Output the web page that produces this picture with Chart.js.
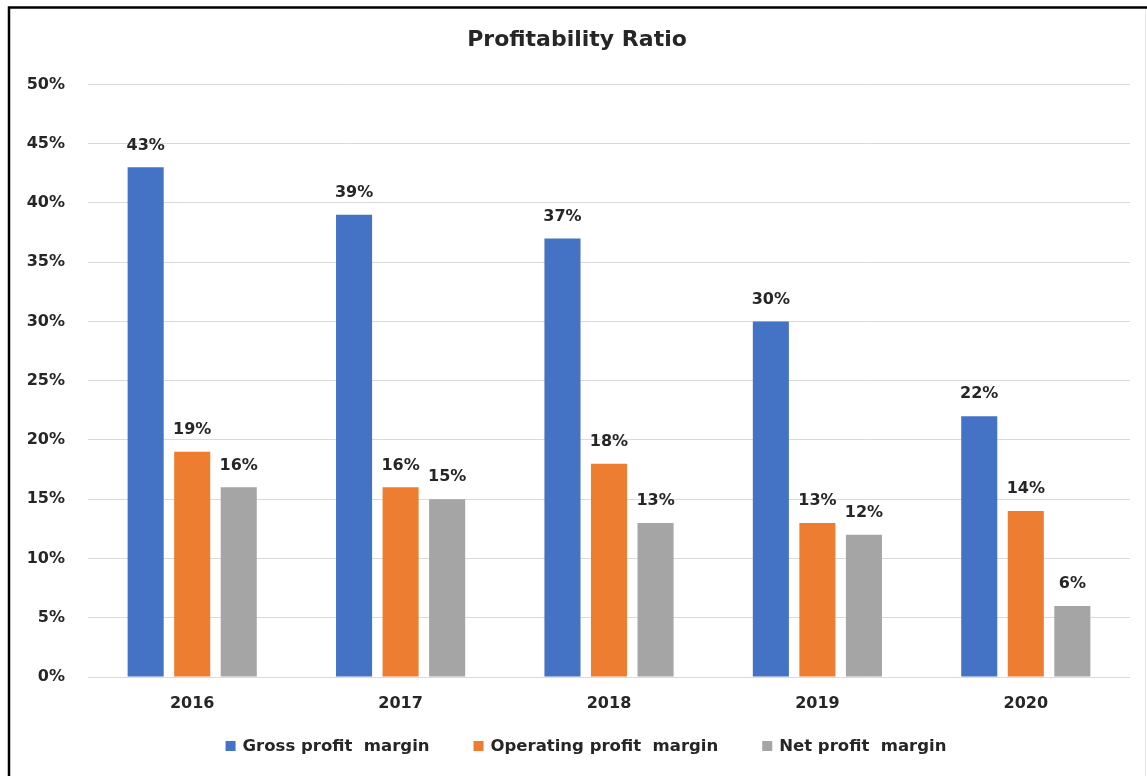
<!DOCTYPE html>
<html>
<head>
<meta charset="utf-8">
<title>Profitability Ratio</title>
<script src="https://cdn.jsdelivr.net/npm/chart.js@4.4.1/dist/chart.umd.min.js"></script>
<style>
  html, body { margin: 0; padding: 0; background: #ffffff; }
  #wrap { position: relative; width: 1147px; height: 776px; }
  canvas { display: block; }
</style>
</head>
<body>
<div id="wrap"><canvas id="chart" width="1147" height="776"></canvas></div>
<script>
// Fiscal years on the category axis
const years = ['2016', '2017', '2018', '2019', '2020'];

// Margins in percent
const grossMargin = [43, 39, 37, 30, 22];
const operatingMargin = [19, 16, 18, 13, 14];
const netMargin = [16, 15, 13, 12, 6];

// Series names as shown in the legend
const seriesNames = ['Gross profit  margin', 'Operating profit  margin', 'Net profit  margin'];
const seriesColors = ['#4472C4', '#ED7D31', '#A5A5A5'];

// Value axis range
const yMin = 0;
const yMax = 50;
const yStep = 5;

const FONT = "'DejaVu Sans', Verdana, sans-serif";
const TEXT = '#262626';

// Thin frame around the figure
const framePlugin = {
  id: 'frame',
  beforeDraw(chart) {
    const ctx = chart.ctx;
    ctx.save();
    ctx.fillStyle = '#ffffff';
    ctx.fillRect(0, 0, chart.width, chart.height);
    ctx.strokeStyle = '#000000';
    ctx.lineWidth = 2.5;
    ctx.beginPath();
    ctx.moveTo(9, chart.height);
    ctx.lineTo(9, 7.5);
    ctx.lineTo(chart.width, 7.5);
    ctx.stroke();
    ctx.strokeStyle = '#e6e6e6';
    ctx.lineWidth = 1;
    ctx.beginPath();
    ctx.moveTo(1145.5, 10);
    ctx.lineTo(1145.5, chart.height);
    ctx.stroke();
    ctx.restore();
  }
};

// Percent value printed above each bar
const valueLabels = {
  id: 'valueLabels',
  afterDatasetsDraw(chart) {
    const ctx = chart.ctx;
    ctx.save();
    ctx.font = 'bold 16px ' + FONT;
    ctx.fillStyle = TEXT;
    ctx.textAlign = 'center';
    ctx.textBaseline = 'middle';
    chart.data.datasets.forEach((ds, i) => {
      const meta = chart.getDatasetMeta(i);
      meta.data.forEach((bar, j) => {
        ctx.fillText(ds.data[j] + '%', bar.x, bar.y - 22);
      });
    });
    ctx.restore();
  }
};

// Single-row legend under the axis, widely spaced
const spacedLegend = {
  id: 'spacedLegend',
  afterDraw(chart, args, opts) {
    const ctx = chart.ctx;
    const box = opts.boxSize, gapText = opts.textGap, gapItem = opts.itemGap;
    ctx.save();
    ctx.font = 'bold ' + opts.fontSize + 'px ' + FONT;
    ctx.textBaseline = 'middle';
    ctx.textAlign = 'left';
    const items = chart.data.datasets.map(ds => ({
      text: ds.label,
      color: ds.backgroundColor,
      w: box + gapText + ctx.measureText(ds.label).width
    }));
    const total = items.reduce((s, it) => s + it.w, 0) + gapItem * (items.length - 1);
    let x = opts.centerX - total / 2;
    const y = opts.y;
    items.forEach(it => {
      ctx.fillStyle = it.color;
      ctx.fillRect(x, y - box / 2, box, box);
      ctx.fillStyle = TEXT;
      ctx.fillText(it.text, x + box + gapText, y + 1);
      x += it.w + gapItem;
    });
    ctx.restore();
  }
};

const seriesData = [grossMargin, operatingMargin, netMargin];

new Chart(document.getElementById('chart'), {
  type: 'bar',
  data: {
    labels: years,
    datasets: seriesData.map((values, i) => ({
      label: seriesNames[i],
      data: values,
      backgroundColor: seriesColors[i],
      borderWidth: 0,
      categoryPercentage: 0.67,
      barPercentage: 0.775
    }))
  },
  options: {
    responsive: false,
    animation: false,
    layout: { padding: { top: 10, left: 24, right: 17, bottom: 63 } },
    plugins: {
      title: {
        display: true,
        text: 'Profitability Ratio',
        color: TEXT,
        font: { family: FONT, size: 22, weight: 'bold' },
        padding: { top: 17, bottom: 31 }
      },
      legend: { display: false },
      spacedLegend: {
        centerX: 586,
        y: 746,
        fontSize: 16.5,
        boxSize: 10,
        textGap: 7,
        itemGap: 44
      },
      tooltip: { enabled: false }
    },
    scales: {
      x: {
        grid: { display: false, drawTicks: false },
        border: { display: false },
        ticks: {
          color: TEXT,
          font: { family: FONT, size: 16, weight: 'bold' },
          padding: 17
        },
        afterFit(scale) { scale.height = 36; }
      },
      y: {
        min: yMin,
        max: yMax,
        grid: { color: '#dadada', lineWidth: 1, drawTicks: false },
        border: { display: false },
        ticks: {
          stepSize: yStep,
          color: TEXT,
          font: { family: FONT, size: 16, weight: 'bold' },
          padding: 23,
          callback: v => v + '%'
        },
        afterFit(scale) { scale.width = 64; }
      }
    }
  },
  plugins: [framePlugin, valueLabels, spacedLegend]
});
</script>
</body>
</html>
